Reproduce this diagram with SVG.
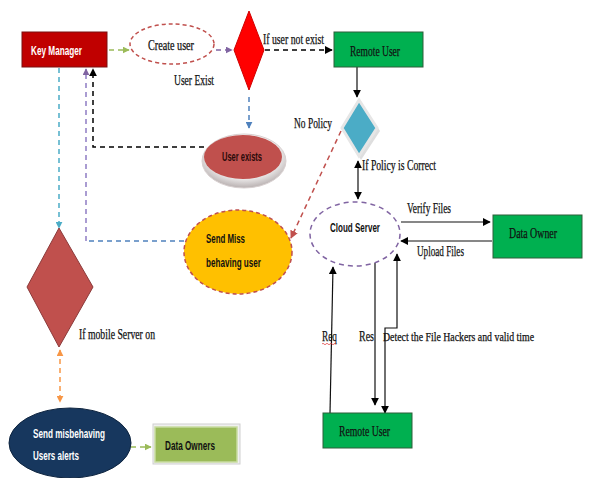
<svg xmlns="http://www.w3.org/2000/svg" width="589" height="478" viewBox="0 0 589 478">
<defs>
<style>
.serif{font-family:"Liberation Serif","Times New Roman",serif;font-size:14px;fill:#111;stroke:#111;stroke-width:0.25}
.sans{font-family:"Liberation Sans",Arial,sans-serif;font-weight:bold;font-size:12px}
.dash{fill:none;stroke-width:1.5;stroke-dasharray:5,4}
.solid{fill:none;stroke:#111;stroke-width:1.2}
</style>
<marker id="aG" viewBox="0 0 10 10" refX="9" refY="5" markerWidth="7" markerHeight="7" orient="auto" markerUnits="userSpaceOnUse"><path d="M0,0L10,5L0,10z" fill="#9BBB59"/></marker>
<marker id="aP" viewBox="0 0 10 10" refX="9" refY="5" markerWidth="7" markerHeight="7" orient="auto" markerUnits="userSpaceOnUse"><path d="M0,0L10,5L0,10z" fill="#8064A2"/></marker>
<marker id="aK" viewBox="0 0 10 10" refX="9" refY="5" markerWidth="8" markerHeight="8" orient="auto" markerUnits="userSpaceOnUse"><path d="M0,0L10,5L0,10z" fill="#000"/></marker>
<marker id="aKs" viewBox="0 0 10 10" refX="1" refY="5" markerWidth="8" markerHeight="8" orient="auto" markerUnits="userSpaceOnUse"><path d="M10,0L0,5L10,10z" fill="#000"/></marker>
<marker id="aB" viewBox="0 0 10 10" refX="9" refY="5" markerWidth="7" markerHeight="7" orient="auto" markerUnits="userSpaceOnUse"><path d="M0,0L10,5L0,10z" fill="#4F81BD"/></marker>
<marker id="aC" viewBox="0 0 10 10" refX="9" refY="5" markerWidth="7" markerHeight="7" orient="auto" markerUnits="userSpaceOnUse"><path d="M0,0L10,5L0,10z" fill="#4BACC6"/></marker>
<marker id="aO" viewBox="0 0 10 10" refX="9" refY="5" markerWidth="7" markerHeight="7" orient="auto" markerUnits="userSpaceOnUse"><path d="M0,0L10,5L0,10z" fill="#F79646"/></marker>
<marker id="aOs" viewBox="0 0 10 10" refX="1" refY="5" markerWidth="7" markerHeight="7" orient="auto" markerUnits="userSpaceOnUse"><path d="M10,0L0,5L10,10z" fill="#F79646"/></marker>
<marker id="aR" viewBox="0 0 10 10" refX="9" refY="5" markerWidth="8" markerHeight="8" orient="auto" markerUnits="userSpaceOnUse"><path d="M0,0L10,5L0,10z" fill="#C0504D"/></marker>
<radialGradient id="rim" cx="0.5" cy="0.4" r="0.6"><stop offset="0.6" stop-color="#ffffff"/><stop offset="1" stop-color="#b8b0b0"/></radialGradient>
</defs>
<rect width="589" height="478" fill="#fff"/>

<g id="connectors">
<path class="dash" stroke="#9BBB59" d="M109,50H129" marker-end="url(#aG)"/>
<path class="dash" stroke="#8064A2" d="M216,50H232" marker-end="url(#aP)"/>
<path class="dash" stroke="#000" d="M265,50H332" marker-end="url(#aK)"/>
<path class="dash" stroke="#4F81BD" d="M249,97V128" marker-end="url(#aB)"/>
<path class="dash" stroke="#000" d="M204,147H93V69" marker-end="url(#aK)"/>
<path class="dash" stroke="#4F81BD" d="M184,241H86"/>
<path class="dash" stroke="#8E7CC3" d="M86,241V69" marker-end="url(#aP)"/>
<path class="dash" stroke="#4BACC6" d="M59,68V228" marker-end="url(#aC)"/>
<path class="dash" stroke="#F79646" d="M60,350V402" marker-start="url(#aOs)" marker-end="url(#aO)"/>
<path class="dash" stroke="#9BBB59" d="M131,447H151" marker-end="url(#aG)"/>
<path class="dash" stroke="#C0504D" d="M341,131L291,238" marker-end="url(#aR)"/>
<path class="solid" d="M357,67V97" marker-end="url(#aK)"/>
<path class="solid" d="M358,161V199" marker-start="url(#aKs)" marker-end="url(#aK)"/>
<path class="solid" d="M401,222H490" marker-end="url(#aK)"/>
<path class="solid" d="M492,241H401" marker-end="url(#aK)"/>
<path class="solid" d="M330,413L333,267" marker-end="url(#aK)"/>
<path class="solid" d="M375,263V405" marker-end="url(#aK)"/>
<path class="solid" d="M397,254V328H385V413" marker-start="url(#aKs)" marker-end="url(#aK)"/>
</g>

<g id="key-manager">
<rect x="22" y="32" width="85" height="35" fill="#C00000" stroke="#7a1010" stroke-width="1"/>
<text class="sans" x="31" y="55" fill="#fff" textLength="51" lengthAdjust="spacingAndGlyphs">Key Manager</text>
</g>

<g id="create-user">
<ellipse cx="172" cy="44" rx="42" ry="20" fill="#fff" stroke="#C0504D" stroke-width="1.5" stroke-dasharray="4,3"/>
<text class="serif" x="148" y="50" textLength="46" lengthAdjust="spacingAndGlyphs">Create user</text>
</g>

<g id="user-check">
<path d="M249,11L264,50L249,90L234,50Z" fill="#FF0000" stroke="#d00000" stroke-width="1"/>
<text class="serif" x="263" y="44" textLength="61" lengthAdjust="spacingAndGlyphs">If user not exist</text>
<text class="serif" x="174" y="85" textLength="40" lengthAdjust="spacingAndGlyphs">User Exist</text>
</g>

<g id="remote-user-top">
<rect x="334" y="32" width="89" height="35" fill="#00B050" stroke="#2f5e3a" stroke-width="1"/>
<text class="serif" x="350" y="56" textLength="50" lengthAdjust="spacingAndGlyphs">Remote User</text>
</g>

<g id="user-exists">
<ellipse cx="244" cy="161" rx="42" ry="27" fill="url(#rim)" stroke="#d8d0d0" stroke-width="1"/>
<ellipse cx="243" cy="157" rx="39" ry="22" fill="#C0504D"/>
<text class="sans" x="222" y="161" fill="#2a0a0a" textLength="40" lengthAdjust="spacingAndGlyphs">User exists</text>
</g>

<g id="policy">
<path d="M361,102L380,131L361,160L345,131Z" fill="#c8c8c8" opacity="0.6"/>
<path d="M359,100L377,128L359,156L342,128Z" fill="#4BACC6" stroke="#e6e6e6" stroke-width="3" stroke-linejoin="miter"/>
<text class="serif" x="294" y="128" textLength="38" lengthAdjust="spacingAndGlyphs">No Policy</text>
<text class="serif" x="362" y="170" textLength="74" lengthAdjust="spacingAndGlyphs">If Policy is Correct</text>
</g>

<g id="cloud-server">
<ellipse cx="355" cy="234" rx="45" ry="32" fill="#fff" stroke="#8064A2" stroke-width="1.5" stroke-dasharray="5,4"/>
<text class="sans" x="330" y="232" fill="#111" textLength="50" lengthAdjust="spacingAndGlyphs">Cloud Server</text>
<text class="serif" x="407" y="213" textLength="44" lengthAdjust="spacingAndGlyphs">Verify Files</text>
<text class="serif" x="417" y="256" textLength="47" lengthAdjust="spacingAndGlyphs">Upload Files</text>
<text class="serif" x="322" y="341" textLength="15" lengthAdjust="spacingAndGlyphs">Req</text>
<path d="M322,344q1,-1.5 2,0t2,0t2,0t2,0t2,0t2,0t2,0" fill="none" stroke="#e03030" stroke-width="0.7"/>
<text class="serif" x="359" y="341" textLength="15" lengthAdjust="spacingAndGlyphs">Res</text>
<text class="serif" x="383" y="341" style="font-size:12.5px" textLength="151" lengthAdjust="spacingAndGlyphs">Detect the File Hackers and valid time</text>
</g>

<g id="data-owner">
<rect x="493" y="215" width="89" height="43" fill="#00B050" stroke="#2f5e3a" stroke-width="1"/>
<text class="serif" x="509" y="238" textLength="48" lengthAdjust="spacingAndGlyphs">Data Owner</text>
</g>

<g id="send-miss">
<ellipse cx="238" cy="252" rx="54" ry="42" fill="#FFC000" stroke="#C0504D" stroke-width="1.5" stroke-dasharray="4,3"/>
<text class="sans" x="206" y="243" fill="#111" textLength="39" lengthAdjust="spacingAndGlyphs">Send Miss</text>
<text class="sans" x="206" y="267" fill="#111" textLength="55" lengthAdjust="spacingAndGlyphs">behaving user</text>
</g>

<g id="mobile-check">
<path d="M59,228L93,287L59,347L27,287Z" fill="#C0504D" stroke="#8b3a3a" stroke-width="1"/>
<text class="serif" x="79" y="339" textLength="76" lengthAdjust="spacingAndGlyphs">If mobile Server on</text>
</g>

<g id="send-alerts">
<ellipse cx="70" cy="443" rx="61" ry="35" fill="#17375E" stroke="#0f2540" stroke-width="1"/>
<text class="sans" x="33" y="438" fill="#fff" textLength="72" lengthAdjust="spacingAndGlyphs">Send misbehaving</text>
<text class="sans" x="33" y="460" fill="#fff" textLength="46" lengthAdjust="spacingAndGlyphs">Users alerts</text>
</g>

<g id="data-owners">
<rect x="153" y="424" width="87" height="40" fill="#f0f0f0" stroke="#cfcfcf" stroke-width="1"/>
<rect x="155" y="427" width="82" height="35" fill="#9BBB59" stroke="#c8dba0" stroke-width="1.5"/>
<text class="sans" x="165" y="450" fill="#111" textLength="50" lengthAdjust="spacingAndGlyphs">Data Owners</text>
</g>

<g id="remote-user-bottom">
<rect x="323" y="413" width="89" height="35" fill="#00B050" stroke="#2f5e3a" stroke-width="1"/>
<text class="serif" x="339" y="436" textLength="51" lengthAdjust="spacingAndGlyphs">Remote User</text>
</g>
</svg>
